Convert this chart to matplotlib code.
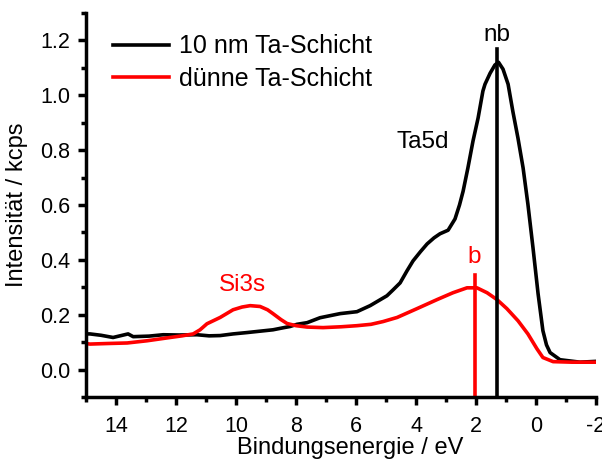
import matplotlib
matplotlib.use("Agg")
import matplotlib.pyplot as plt
from matplotlib.ticker import MultipleLocator

plt.rcParams['font.family'] = ['Liberation Sans', 'DejaVu Sans']

# 10 nm Ta layer (binding energy in eV, intensity in kcps)
e_thick = [15.0, 14.87, 14.5, 14.1, 13.6, 13.43, 12.9, 12.43, 11.9, 11.3, 10.9, 10.53,
           10.1, 9.63, 9.2, 8.77, 8.4, 8.2, 7.97, 7.63, 7.2, 6.53, 5.97, 5.53, 4.97,
           4.77, 4.53, 4.3, 4.1, 3.85, 3.63, 3.4, 3.2, 2.93, 2.7, 2.55, 2.43, 2.27,
           2.1, 1.93, 1.77, 1.7, 1.53, 1.37, 1.25, 1.1, 0.93, 0.77, 0.6, 0.43, 0.27,
           0.1, -0.07, -0.23, -0.35, -0.47, -0.8, -1.47, -2.0]
i_thick = [0.13, 0.13, 0.125, 0.117, 0.13, 0.12, 0.122, 0.127, 0.126, 0.127, 0.123, 0.124,
           0.13, 0.135, 0.14, 0.145, 0.153, 0.157, 0.165, 0.171, 0.189, 0.204, 0.211, 0.233, 0.269,
           0.29, 0.316, 0.36, 0.396, 0.43, 0.458, 0.48, 0.495, 0.508, 0.549, 0.6, 0.65, 0.735,
           0.833, 0.917, 1.015, 1.04, 1.08, 1.11, 1.12, 1.095, 1.04, 0.94, 0.843, 0.735, 0.603,
           0.444, 0.276, 0.142, 0.09, 0.062, 0.036, 0.027, 0.03]

# thin Ta layer
e_thin = [15.0, 14.87, 14.3, 13.63, 12.97, 12.2, 11.8, 11.43, 11.2, 10.97, 10.53, 10.1,
          9.8, 9.53, 9.2, 8.95, 8.77, 8.5, 8.3, 8.0, 7.63, 7.1, 6.5, 5.97, 5.5, 5.1,
          4.63, 3.97, 3.3, 2.77, 2.3, 1.97, 1.63, 1.3, 0.97, 0.6, 0.27, -0.03, -0.23,
          -0.57, -1.2, -2.0]
i_thin = [0.095, 0.093, 0.095, 0.097, 0.105, 0.117, 0.123, 0.13, 0.145, 0.167, 0.19, 0.218,
          0.228, 0.233, 0.23, 0.218, 0.204, 0.182, 0.168, 0.16, 0.155, 0.153, 0.156, 0.16, 0.165, 0.175,
          0.19, 0.222, 0.255, 0.28, 0.298, 0.298, 0.28, 0.255, 0.222, 0.178, 0.13, 0.076, 0.044,
          0.029, 0.027, 0.027]

# marker lines: position, top
nb_pos, nb_top = 1.3, 1.17
b_pos, b_top = 2.05, 0.345

fig = plt.figure(figsize=(6.02, 4.59), dpi=100)
ax = fig.add_axes([0.143, 0.135, 0.847, 0.837])

lw = 2.6
ax.plot(e_thick, i_thick, color='black', lw=lw, solid_joinstyle='round', label='10 nm Ta-Schicht')
ax.plot(e_thin, i_thin, color='#ff0000', lw=lw, solid_joinstyle='round', label='dünne Ta-Schicht')
ax.plot([nb_pos, nb_pos], [-0.1, nb_top], color='black', lw=lw)
ax.plot([b_pos, b_pos], [-0.1, b_top], color='#ff0000', lw=lw)

fs = 17.5
ax.text(nb_pos, 1.22, 'nb', fontsize=fs, ha='center', va='center')
ax.text(b_pos, 0.41, 'b', fontsize=fs, ha='center', va='center', color='#ff0000')
ax.text(3.77, 0.83, 'Ta5d', fontsize=fs, ha='center', va='center')
ax.text(9.77, 0.31, 'Si3s', fontsize=fs, ha='center', va='center', color='#ff0000')

ax.set_xlim(15, -2)
ax.set_ylim(-0.1, 1.3)
ax.xaxis.set_minor_locator(MultipleLocator(1))
ax.yaxis.set_minor_locator(MultipleLocator(0.1))
ax.set_xticks([14, 12, 10, 8, 6, 4, 2, 0, -2])
ax.set_xticklabels(['14', '12', '10', '8', '6', '4', '2', '0', '-2'])
ax.set_yticks([0.0, 0.2, 0.4, 0.6, 0.8, 1.0, 1.2])
ax.set_yticklabels(['0.0', '0.2', '0.4', '0.6', '0.8', '1.0', '1.2'])

for side in ['top', 'right']:
    ax.spines[side].set_visible(False)
for side in ['left', 'bottom']:
    ax.spines[side].set_linewidth(2.5)
ax.tick_params(which='major', direction='out', length=5.5, width=2.5, labelsize=15.5)
ax.tick_params(axis='x', which='major', pad=8)
ax.tick_params(axis='y', which='major', pad=6)
ax.tick_params(which='minor', direction='out', length=3.5, width=2.5)

ax.set_xlabel('Bindungsenergie / eV', fontsize=17)
ax.set_ylabel('Intensität / kcps', fontsize=17)
ax.xaxis.set_label_coords(0.517, -0.105)
ax.yaxis.set_label_coords(-0.114, 0.5)

ax.legend(loc='upper left', bbox_to_anchor=(0.053, 0.944), frameon=False, fontsize=18,
          handlelength=2.25, handletextpad=0.37, labelspacing=0.33,
          borderpad=0, borderaxespad=0)

fig.savefig('out.png', dpi=100)
